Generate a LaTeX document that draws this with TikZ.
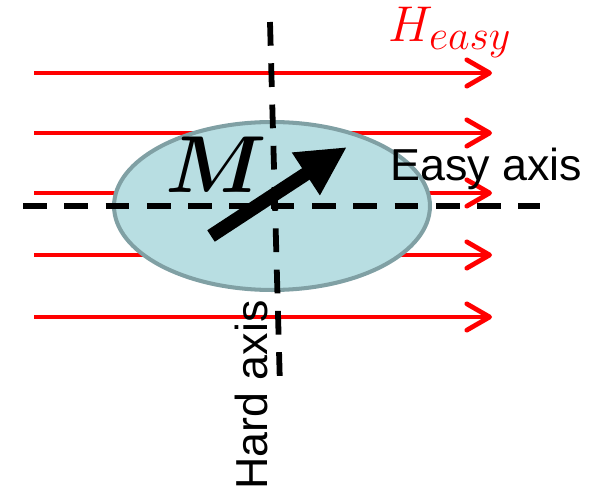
\documentclass[tikz,border=0pt]{standalone}
\usepackage{fontspec}
\usepackage{amsmath}
\usepackage{graphicx}
\usepackage{tikz}
\usetikzlibrary{shapes.geometric, arrows.meta, positioning}
\setsansfont{Liberation Sans}
\definecolor{fieldred}{RGB}{255,0,0}
\definecolor{grainfill}{RGB}{184,222,226}
\definecolor{graindraw}{RGB}{128,160,164}
\tikzset{
  field/.style={-{Straight Barb[round, length=13pt, width=15pt]}, line width=2.7pt, color=fieldred},
  grain/.style={ellipse, draw=graindraw, fill=grainfill, line width=2.3pt,
    minimum width=6.32cm, minimum height=3.36cm, inner sep=0pt},
  axisline/.style={line width=3.3pt, dash pattern=on 13.5pt off 10pt, color=black},
  moment/.style={-{Triangle[length=28pt, width=27pt]}, line width=7.8pt, color=black},
  axislabel/.style={font={\sffamily\fontsize{25.5}{28}\selectfont}, inner sep=0pt},
  mathlabel/.style={font={\fontsize{24.88}{28}\selectfont}, inner sep=0pt}
}

\begin{document}
\begin{tikzpicture}[x=0.02cm, y=-0.02cm]
  \useasboundingbox (0,0) rectangle (612,493);

  % Applied field lines
  \foreach \y in {73,133,193,255,317}
    \draw[field] (34,\y) -- (492,\y);
  \node[mathlabel, anchor=base west, text=fieldred] (heasy) at (388,42) {\scalebox{1.15}{$H_{easy}$}};

  % Grain
  \node[grain] (grain) at (272,206) {};

  % Easy and hard axes
  \coordinate (ealeft) at (23,206);
  \coordinate (earight) at (540,206);
  \coordinate (hatop) at (270,22);
  \coordinate (habot) at (280,387);
  \draw[axisline] (ealeft) -- (earight);
  \draw[axisline] (hatop) -- (habot);

  % Magnetisation
  \coordinate (mtail) at (211,236);
  \coordinate (mhead) at (347,147);
  \draw[moment] (mtail) -- (mhead);
  \node[mathlabel] (mlabel) at (216,165) {\scalebox{1.85}{$\boldsymbol{M}$}};

  % Labels
  \node[axislabel, anchor=base west] (easy) at (390,181) {Easy axis};
  \node[axislabel, anchor=base west, rotate=90] (hard) at (267,490) {Hard axis};
\end{tikzpicture}
\end{document}
